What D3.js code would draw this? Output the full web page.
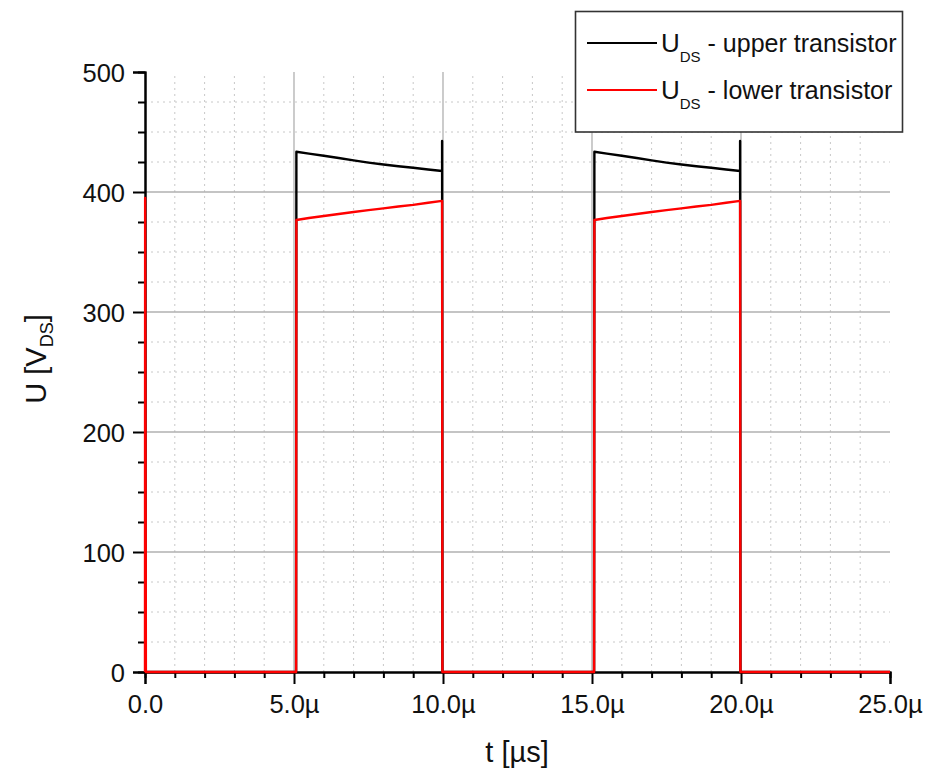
<!DOCTYPE html>
<html>
<head>
<meta charset="utf-8">
<script src="https://cdn.jsdelivr.net/npm/d3@7"></script>
<style>
  html, body { margin: 0; padding: 0; background: #fff; }
  svg { display: block; font-family: "Liberation Sans", Arial, sans-serif; }
</style>
</head>
<body>
<svg id="chart" width="933" height="782"></svg>
<script>
// ---- data (time in µs, voltage in V) ----
const upperTime = [0, 5.07, 5.08, 5.5, 6.0, 6.5, 7.0, 7.5, 8.0, 8.5, 9.0, 9.5, 9.97, 9.97, 9.98,
                   15.07, 15.08, 15.5, 16.0, 16.5, 17.0, 17.5, 18.0, 18.5, 19.0, 19.5, 19.97, 19.97, 19.98, 25];
const upperVolt = [0, 0, 433.5, 432.0, 430.2, 428.3, 426.3, 424.5, 422.9, 421.5, 420.2, 418.8, 417.5, 442.5, 0,
                   0, 433.5, 432.0, 430.2, 428.3, 426.3, 424.5, 422.9, 421.5, 420.2, 418.8, 417.5, 442.5, 0, 0];
const lowerTime = [0, 0.005, 0.03, 5.07, 5.08, 5.5, 6.0, 6.5, 7.0, 7.5, 8.0, 8.5, 9.0, 9.5, 9.97, 9.98,
                   15.07, 15.08, 15.5, 16.0, 16.5, 17.0, 17.5, 18.0, 18.5, 19.0, 19.5, 19.97, 19.98, 25];
const lowerVolt = [0, 395, 0, 0, 376.7, 378.3, 380.0, 381.7, 383.3, 384.9, 386.4, 387.9, 389.3, 391.0, 392.6, 0,
                   0, 376.7, 378.3, 380.0, 381.7, 383.3, 384.9, 386.4, 387.9, 389.3, 391.0, 392.6, 0, 0];
const xTicks = [0, 5, 10, 15, 20, 25];
const xTickLabels = ["0.0", "5.0µ", "10.0µ", "15.0µ", "20.0µ", "25.0µ"];
const yTicks = [0, 100, 200, 300, 400, 500];
const seriesNames = ["upper transistor", "lower transistor"];
const seriesColors = ["#000000", "#ff0000"];

const svg = d3.select("#chart");
const x = d3.scaleLinear().domain([0, 25]).range([145, 890]);
const y = d3.scaleLinear().domain([0, 500]).range([672, 72]);

// minor dotted grid
const g = svg.append("g");
g.selectAll("line.mx").data(d3.range(1, 25).filter(v => v % 5 !== 0)).enter().append("line")
  .attr("x1", d => x(d)).attr("x2", d => x(d)).attr("y1", y(0)).attr("y2", y(500))
  .attr("stroke", "#c8c8c8").attr("stroke-width", 1).attr("stroke-dasharray", "2,4");
g.selectAll("line.my").data(d3.range(25, 500, 25).filter(v => v % 100 !== 0)).enter().append("line")
  .attr("x1", x(0)).attr("x2", x(25)).attr("y1", d => y(d)).attr("y2", d => y(d))
  .attr("stroke", "#c8c8c8").attr("stroke-width", 1).attr("stroke-dasharray", "2,4");
// major solid grid
g.selectAll("line.Mx").data([5, 10, 15, 20]).enter().append("line")
  .attr("x1", d => x(d)).attr("x2", d => x(d)).attr("y1", y(0)).attr("y2", y(500))
  .attr("stroke", "#b0b0b0").attr("stroke-width", 1.3);
g.selectAll("line.My").data([100, 200, 300, 400]).enter().append("line")
  .attr("x1", x(0)).attr("x2", x(25)).attr("y1", d => y(d)).attr("y2", d => y(d))
  .attr("stroke", "#b0b0b0").attr("stroke-width", 1.3);

// axes
const xAxis = d3.axisBottom(x).tickValues(xTicks).tickFormat((d, i) => xTickLabels[i]).tickSize(12).tickPadding(6);
const xAxisMinor = d3.axisBottom(x).tickValues(d3.range(0, 26).filter(v => v % 5 !== 0)).tickFormat("").tickSize(6);
const yAxis = d3.axisLeft(y).tickValues(yTicks).tickSize(12).tickPadding(8);
const yAxisMinor = d3.axisLeft(y).tickValues(d3.range(0, 501, 25).filter(v => v % 100 !== 0)).tickFormat("").tickSize(7);

function styleAxis(sel) {
  sel.select(".domain").attr("stroke", "#000").attr("stroke-width", 2);
  sel.selectAll(".tick line").attr("stroke", "#000").attr("stroke-width", 2);
  sel.selectAll(".tick text").attr("fill", "#111").style("font-size", "25.5px")
     .style("font-family", "'Liberation Sans', Arial, sans-serif");
}

const line = d3.line().x(d => x(d[0])).y(d => y(d[1]));
const upper = upperTime.map((t, i) => [t, upperVolt[i]]);
const lower = lowerTime.map((t, i) => [t, lowerVolt[i]]);

svg.append("g").attr("transform", `translate(0,${y(0)})`).call(xAxisMinor).call(styleAxis);
svg.append("g").attr("transform", `translate(${x(0)},0)`).call(yAxisMinor).call(styleAxis);
const gy = svg.append("g").attr("transform", `translate(${x(0)},0)`).call(yAxis).call(styleAxis);
gy.selectAll(".tick text").attr("dy", "0.36em");
const gx = svg.append("g").attr("transform", `translate(0,${y(0)})`).call(xAxis).call(styleAxis);
gx.selectAll(".tick text").attr("dy", "0.9em");

// data lines (upper first, lower drawn on top)
svg.append("path").datum(upper).attr("d", line).attr("fill", "none")
  .attr("stroke", seriesColors[0]).attr("stroke-width", 2.4).attr("stroke-linejoin", "round");
svg.append("path").datum(lower).attr("d", line).attr("fill", "none")
  .attr("stroke", seriesColors[1]).attr("stroke-width", 2.4).attr("stroke-linejoin", "round");

// axis titles
const yt = svg.append("text").attr("transform", "translate(46,359) rotate(-90)")
  .attr("text-anchor", "middle").attr("fill", "#111").style("font-size", "29px");
yt.append("tspan").text("U [V");
yt.append("tspan").text("DS").style("font-size", "18px").attr("dy", 7);
yt.append("tspan").text("]").attr("dy", -7);
svg.append("text").attr("x", 517).attr("y", 762).attr("text-anchor", "middle")
  .attr("fill", "#111").style("font-size", "29px").text("t [µs]");

// legend
const lg = svg.append("g");
lg.append("rect").attr("x", 575.5).attr("y", 11.5).attr("width", 327).attr("height", 120.5)
  .attr("fill", "#fff").attr("stroke", "#333").attr("stroke-width", 1.6);
const ly = [43, 90];
seriesNames.forEach((name, i) => {
  lg.append("line").attr("x1", 587).attr("x2", 657).attr("y1", ly[i]).attr("y2", ly[i])
    .attr("stroke", seriesColors[i]).attr("stroke-width", 2);
  const t = lg.append("text").attr("x", 661).attr("y", ly[i] + 9).attr("fill", "#111").style("font-size", "25px");
  t.append("tspan").text("U").style("font-size", "26px");
  t.append("tspan").text("DS").style("font-size", "15px").attr("dy", 10);
  t.append("tspan").text(" - " + name).attr("dy", -10);
});
</script>
</body>
</html>
